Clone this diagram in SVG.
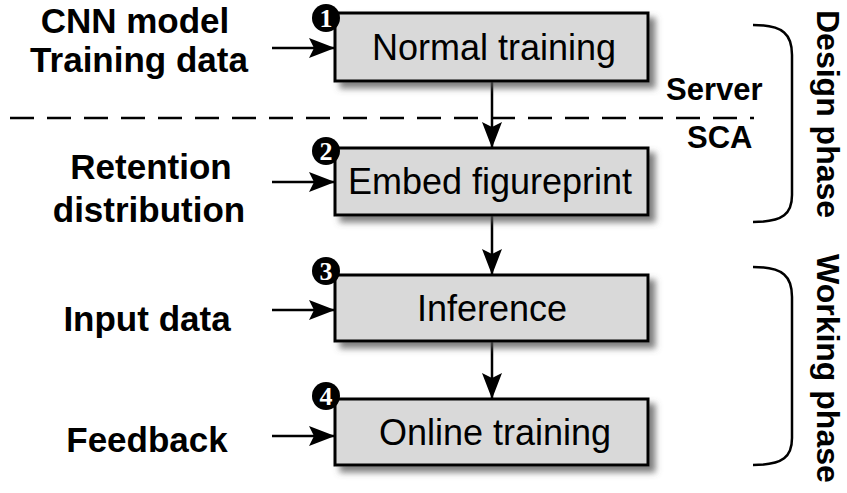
<svg xmlns="http://www.w3.org/2000/svg" width="847" height="493" viewBox="0 0 847 493">
<style>
.box{fill:#d9d9d9;stroke:#000;stroke-width:3;filter:url(#sh)}
.bt{font-family:"Liberation Sans",Arial,sans-serif;font-size:36px;fill:#000;text-anchor:middle}
.lb{font-family:"Liberation Sans",Arial,sans-serif;font-size:35px;font-weight:bold;fill:#000;text-anchor:middle}
.sv{font-family:"Liberation Sans",Arial,sans-serif;font-size:31px;font-weight:bold;fill:#000}
.ph{font-family:"Liberation Sans",Arial,sans-serif;font-size:32px;font-weight:bold;fill:#000}
.num{font-family:"Liberation Serif","Times New Roman",serif;font-size:26px;font-weight:bold;fill:#fff;text-anchor:middle}
.ln{stroke:#000;stroke-width:2.5;fill:none}
</style>
<defs>
<filter id="sh" x="-10%" y="-20%" width="130%" height="160%">
<feGaussianBlur in="SourceAlpha" stdDeviation="3"/>
<feOffset dx="6" dy="6" result="b"/>
<feFlood flood-color="#555" flood-opacity="0.75"/>
<feComposite in2="b" operator="in"/>
<feMerge><feMergeNode/><feMergeNode in="SourceGraphic"/></feMerge>
</filter>
<marker id="ah" viewBox="0 0 26 20" refX="25" refY="10" markerWidth="26" markerHeight="20" markerUnits="userSpaceOnUse" orient="auto">
<path d="M0,0 L26,10 L0,20 L5,10 Z" fill="#000"/>
</marker>
</defs>
<rect width="847" height="493" fill="#fff"/>

<g id="connectors">
<line class="ln" x1="10" y1="118" x2="754" y2="118" stroke-dasharray="24 13"/>
<line class="ln" x1="492" y1="82" x2="492" y2="147" marker-end="url(#ah)"/>
<line class="ln" x1="492" y1="216" x2="492" y2="274" marker-end="url(#ah)"/>
<line class="ln" x1="492" y1="342" x2="492" y2="398" marker-end="url(#ah)"/>
<line class="ln" x1="272" y1="48" x2="334" y2="48" marker-end="url(#ah)"/>
<line class="ln" x1="272" y1="182" x2="334" y2="182" marker-end="url(#ah)"/>
<line class="ln" x1="272" y1="310" x2="334" y2="310" marker-end="url(#ah)"/>
<line class="ln" x1="272" y1="436" x2="334" y2="436" marker-end="url(#ah)"/>
<path class="ln" d="M753,25 C784,25 792,35 792,55 L792,195 C792,213 784,222 753,222"/>
<path class="ln" d="M753,267 C784,267 792,277 792,297 L792,438 C792,456 784,465 753,465"/>
</g>

<g id="n1">
<rect class="box" x="335" y="13" width="313" height="68"/>
<text class="bt" x="494" y="60">Normal training</text>
<circle cx="326" cy="18" r="14" fill="#000"/>
<text class="num" x="326" y="27">1</text>
</g>
<g id="n2">
<rect class="box" x="335" y="148" width="313" height="67"/>
<text class="bt" x="490" y="194">Embed figureprint</text>
<circle cx="326" cy="151" r="14" fill="#000"/>
<text class="num" x="326" y="160">2</text>
</g>
<g id="n3">
<rect class="box" x="335" y="275" width="313" height="66"/>
<text class="bt" x="492" y="321">Inference</text>
<circle cx="326" cy="271" r="14" fill="#000"/>
<text class="num" x="326" y="280">3</text>
</g>
<g id="n4">
<rect class="box" x="335" y="399" width="313" height="66"/>
<text class="bt" x="495" y="445">Online training</text>
<circle cx="326" cy="396" r="14" fill="#000"/>
<text class="num" x="326" y="405">4</text>
</g>

<g id="labels">
<text class="lb" x="135" y="33">CNN model</text>
<text class="lb" x="139" y="72">Training data</text>
<text class="lb" x="151" y="179">Retention</text>
<text class="lb" x="149" y="222">distribution</text>
<text class="lb" x="147" y="331">Input data</text>
<text class="lb" x="147" y="452">Feedback</text>
<text class="sv" x="666" y="100">Server</text>
<text class="sv" x="687" y="148">SCA</text>
<text class="ph" transform="translate(817,10) rotate(90)">Design phase</text>
<text class="ph" transform="translate(817,254) rotate(90)">Working phase</text>
</g>
</svg>
